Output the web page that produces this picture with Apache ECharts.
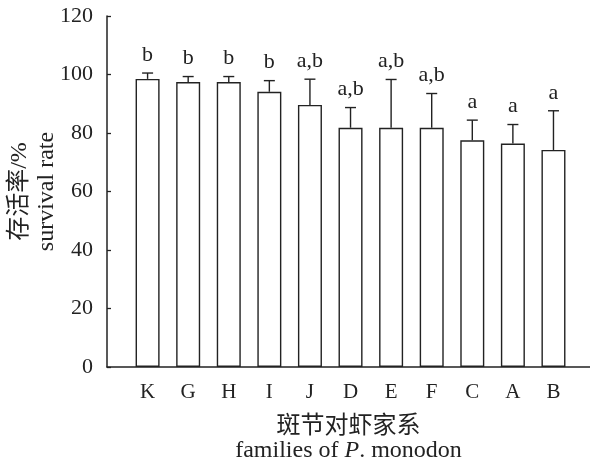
<!DOCTYPE html>
<html>
<head>
<meta charset="utf-8">
<script src="https://cdn.jsdelivr.net/npm/echarts@6/dist/echarts.min.js"></script>
<style>
  html, body { margin: 0; padding: 0; background: #fff; }
  #survival { width: 590px; height: 460px; }
</style>
</head>
<body>
<div id="survival"></div>
<script>
var families = ["K", "G", "H", "I", "J", "D", "E", "F", "C", "A", "B"];
var survivalMean = [98.5, 97.4, 97.4, 94.1, 89.6, 81.8, 81.8, 81.8, 77.5, 76.4, 74.2];
var survivalSd = [2.0, 1.9, 1.9, 3.8, 8.8, 6.9, 16.5, 11.7, 6.9, 6.5, 13.4];
var sigLetters = ["b", "b", "b", "b", "a,b", "a,b", "a,b", "a,b", "a", "a", "a"];

var serif = '"Liberation Serif", "Noto Sans CJK SC", serif';
var ink = "#222";

var barData = [];
var errData = [];
for (let i = 0; i < families.length; i++) {
  barData.push([i, survivalMean[i]]);
  errData.push([i, survivalMean[i], survivalMean[i] + survivalSd[i]]);
}

var chart = echarts.init(document.getElementById("survival"));
chart.setOption({
  animation: false,
  grid: { left: 107, right: 0, top: 16, bottom: 93, outerBoundsMode: "none" },
  xAxis: {
    type: "value",
    min: -1,
    max: 10.9,
    interval: 1,
    name: "{c|斑节对虾家系}\n{n|families of }{i|P}{n|. monodon}",
    nameLocation: "middle",
    nameMoveOverlap: false,
    nameGap: 48,
    nameTextStyle: {
      rich: {
        c: { fontFamily: serif, fontSize: 24, color: ink, lineHeight: 24, align: "center" },
        n: { fontFamily: serif, fontSize: 24, color: ink, lineHeight: 24 },
        i: { fontFamily: serif, fontSize: 24, color: ink, lineHeight: 24, fontStyle: "italic" }
      }
    },
    axisLine: { onZero: false, lineStyle: { color: ink, width: 1.5 } },
    axisTick: { show: false },
    splitLine: { show: false },
    axisLabel: {
      fontFamily: serif,
      fontSize: 21,
      color: ink,
      margin: 15,
      showMaxLabel: false,
      formatter: function (v) {
        return families[v] || "";
      }
    }
  },
  yAxis: {
    type: "value",
    min: 0,
    max: 120,
    interval: 20,
    name: "存活率/%\nsurvival rate",
    nameLocation: "middle",
    nameRotate: 90,
    nameMoveOverlap: false,
    nameGap: 47,
    nameTextStyle: { fontFamily: serif, fontSize: 24, color: ink, lineHeight: 27, align: "center" },
    axisLine: { show: true, onZero: false, lineStyle: { color: ink, width: 1.5 } },
    axisTick: { show: true, inside: true, length: 4, lineStyle: { color: ink, width: 1.3 } },
    splitLine: { show: false },
    axisLabel: { fontFamily: serif, fontSize: 22, color: ink, margin: 14 }
  },
  series: [
    {
      type: "bar",
      data: barData,
      barWidth: 24,
      itemStyle: { color: "#fff", borderColor: ink, borderWidth: 1.4 }
    },
    {
      type: "custom",
      data: errData,
      dimensions: ["idx", "mean", "top"],
      encode: { x: 0, y: [1, 2] },
      z: 3,
      renderItem: function (params, api) {
        var i = params.dataIndex;
        var bottom = api.coord([api.value(0), api.value(1)]);
        var top = api.coord([api.value(0), api.value(2)]);
        var st = { stroke: ink, lineWidth: 1.4 };
        return {
          type: "group",
          children: [
            { type: "line", shape: { x1: bottom[0], y1: bottom[1], x2: top[0], y2: top[1] }, style: st },
            { type: "line", shape: { x1: top[0] - 5.5, y1: top[1], x2: top[0] + 5.5, y2: top[1] }, style: st },
            {
              type: "text",
              x: top[0],
              y: top[1] - 7,
              style: {
                text: sigLetters[i],
                fontFamily: serif,
                fontSize: 22,
                fill: ink,
                align: "center",
                verticalAlign: "bottom"
              }
            }
          ]
        };
      }
    }
  ]
});
window.addEventListener("resize", function () {
  chart.resize();
});
</script>
</body>
</html>
